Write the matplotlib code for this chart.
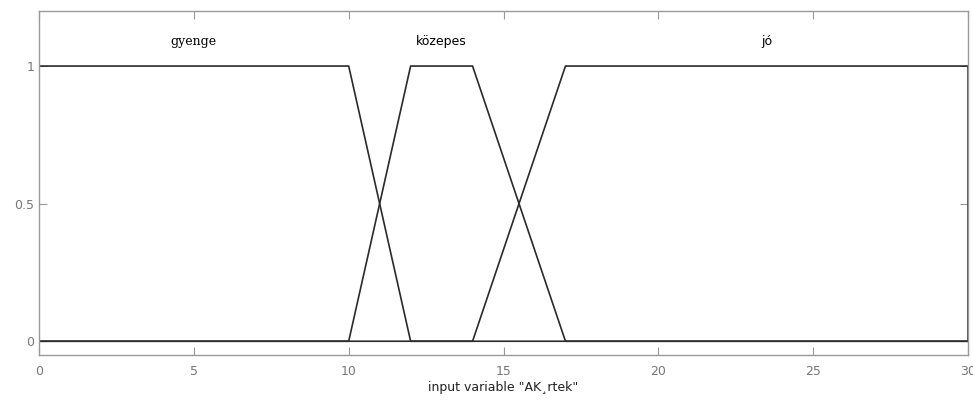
import matplotlib
matplotlib.use("Agg")
import matplotlib.pyplot as plt
import numpy as np

# membership functions (trapezoid corners) on input range 0..30
x_range = [0, 30]
mf_names = ["gyenge", "közepes", "jó"]
mf_params = [[0, 0, 10, 12],
             [10, 12, 14, 17],
             [14, 17, 30, 30]]
label_fonts = ["serif", "sans-serif", "sans-serif"]

x_ticks = [0, 5, 10, 15, 20, 25, 30]
y_ticks = [0, 0.5, 1]
axis_gray = "#999999"

fig = plt.figure(figsize=(9.73, 4.0), dpi=100)
ax = fig.add_axes([0.0401, 0.1125, 0.9548, 0.86])

for name, p, fam in zip(mf_names, mf_params, label_fonts):
    a, b, c, d = p
    xs = [x_range[0], a, b, c, d, x_range[1]]
    ys = [0, 0, 1, 1, 0, 0]
    ax.plot(xs, ys, color="#2a2a2a", lw=1.2)
    ax.text((b + c) / 2, 1.09, name, ha="center", va="center",
            fontsize=9, family=fam, color="black")

ax.set_xlim(x_range)
ax.set_ylim(-0.05, 1.2)
ax.set_xticks(x_ticks)
ax.set_yticks(y_ticks)
ax.set_yticklabels(["0", "0.5", "1"])
ax.tick_params(direction="in", length=6, colors=axis_gray, labelcolor="#777777",
               labelsize=9, top=True, right=True, width=0.8)
ax.tick_params(axis="x", pad=7)
for s in ax.spines.values():
    s.set_color(axis_gray)
    s.set_linewidth(1.0)
ax.set_xlabel('input variable "AK\u00b8rtek"', fontsize=9, color="#222222", labelpad=2)

fig.savefig("out.png", dpi=100)
